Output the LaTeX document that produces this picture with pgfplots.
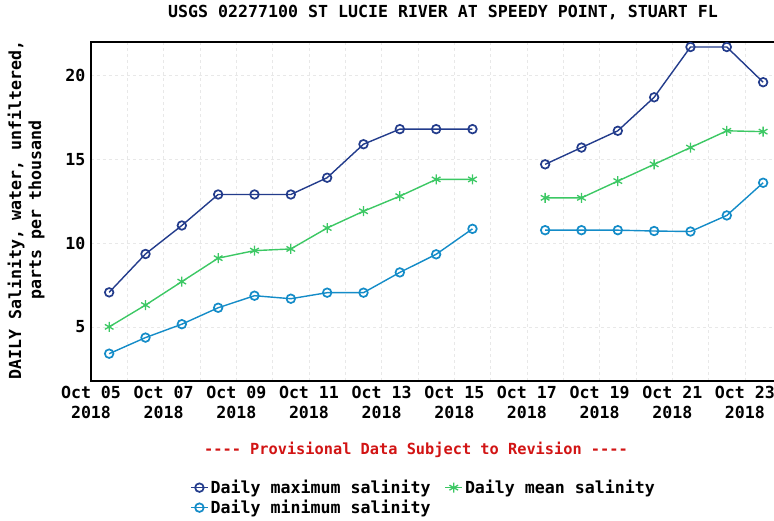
\documentclass[border=0pt]{standalone}
\usepackage{pgfplots}
\pgfplotsset{compat=1.18}
\usepackage{fontspec}
\setmainfont{DejaVu Sans Mono}
\definecolor{cmax}{RGB}{35,60,140}
\definecolor{cmean}{RGB}{60,200,100}
\definecolor{cmin}{RGB}{20,140,200}
\definecolor{cred}{RGB}{210,20,20}
\newcommand{\tf}{\bfseries\fontsize{16.6}{20}\selectfont}
\begin{document}
\begin{tikzpicture}[x=1pt,y=1pt]
\useasboundingbox (-91,-140) rectangle (683,381);
\fill[white] (-91,-140) rectangle (683,381);
\begin{axis}[
  at={(0,0)}, anchor=south west,
  scale only axis, width=690.3pt, height=339pt,
  xmin=5, xmax=24, ymin=1.77, ymax=22,
  xtick={5,7,...,23},
  xticklabels={{Oct 05\\2018},{Oct 07\\2018},{Oct 09\\2018},{Oct 11\\2018},{Oct 13\\2018},{Oct 15\\2018},{Oct 17\\2018},{Oct 19\\2018},{Oct 21\\2018},{Oct 23\\2018}},
  minor xtick={6,8,...,24},
  ytick={5,10,15,20},
  /pgf/number format/assume math mode=true,
  x tick label style={align=center, font=\tf},
  y tick label style={font=\tf},
  xticklabel shift=2pt,
  yticklabel shift=2pt,
  major tick length=0pt, minor tick length=0pt,
  grid=both,
  major grid style={gray!18, dashed, line width=0.6pt},
  minor grid style={gray!18, dashed, line width=0.6pt},
  axis line style={black, line width=1.3pt},
  unbounded coords=jump,
  legend columns=2,
  legend cell align=left,
  legend style={at={(0.1434,-0.286)}, anchor=north west, draw=none, fill=none,
    font=\tf, inner sep=0pt, row sep=1pt,
    /tikz/every even column/.append style={column sep=12pt}},
]
\addplot[cmax, line width=1.4pt, mark=o, mark size=4.3pt, mark options={solid, fill=white, line width=1.7pt}]
coordinates {(5.5,7.06)(6.5,9.35)(7.5,11.05)(8.5,12.9)(9.5,12.9)(10.5,12.9)(11.5,13.9)(12.5,15.9)(13.5,16.8)(14.5,16.8)(15.5,16.8)(16.5,nan)(17.5,14.7)(18.5,15.7)(19.5,16.7)(20.5,18.7)(21.5,21.7)(22.5,21.7)(23.5,19.6)};
\addlegendentry{Daily maximum salinity}
\addplot[cmean, line width=1.4pt, mark=asterisk, mark size=5pt, mark options={solid, line width=1.3pt}]
coordinates {(5.5,5.0)(6.5,6.3)(7.5,7.7)(8.5,9.1)(9.5,9.55)(10.5,9.65)(11.5,10.9)(12.5,11.9)(13.5,12.8)(14.5,13.8)(15.5,13.8)(16.5,nan)(17.5,12.7)(18.5,12.7)(19.5,13.7)(20.5,14.7)(21.5,15.7)(22.5,16.7)(23.5,16.65)};
\addlegendentry{Daily mean salinity}
\addplot[cmin, line width=1.4pt, mark=o, mark size=4.3pt, mark options={solid, fill=white, line width=1.7pt}]
coordinates {(5.5,3.4)(6.5,4.36)(7.5,5.16)(8.5,6.14)(9.5,6.86)(10.5,6.68)(11.5,7.04)(12.5,7.04)(13.5,8.25)(14.5,9.33)(15.5,10.85)(16.5,nan)(17.5,10.77)(18.5,10.77)(19.5,10.77)(20.5,10.72)(21.5,10.69)(22.5,11.65)(23.5,13.6)};
\addlegendentry{Daily minimum salinity}
\end{axis}
\node[font=\tf] at (352,368) {USGS 02277100 ST LUCIE RIVER AT SPEEDY POINT, STUART FL};
\node[font=\bfseries\fontsize{15.3}{18}\selectfont, text=cred] at (325,-69) {-{}-{}-{}- Provisional Data Subject to Revision -{}-{}-{}-};
\node[font=\tf, rotate=90, align=center] at (-65,171) {DAILY Salinity, water, unfiltered,\\parts per thousand};
\end{tikzpicture}
\end{document}
